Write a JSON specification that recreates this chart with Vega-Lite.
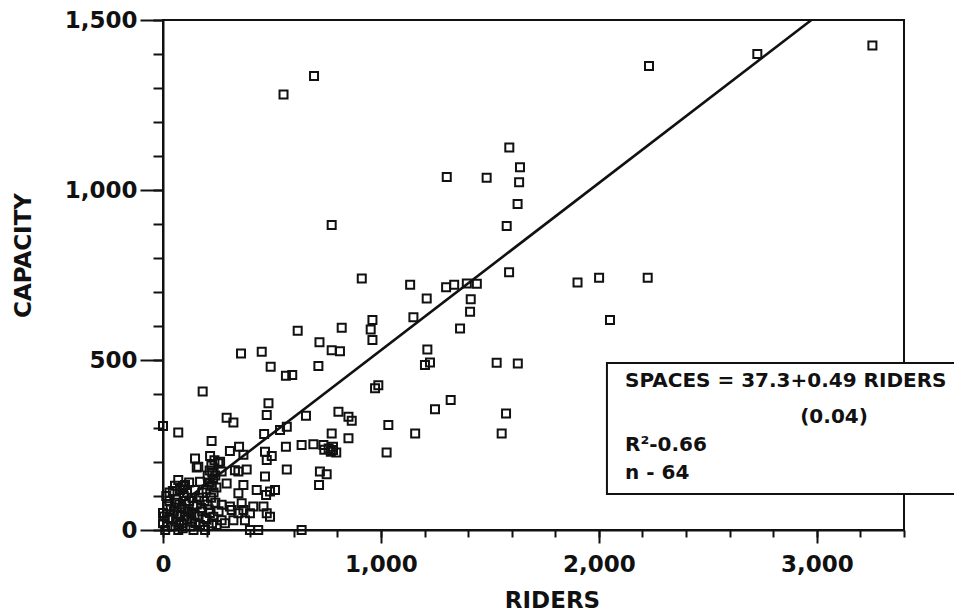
{
  "$schema": "https://vega.github.io/schema/vega-lite/v6.json",
  "width": 741,
  "height": 510,
  "autosize": {"type": "none"},
  "padding": {"left": 163, "top": 20, "right": 50, "bottom": 81},
  "background": "white",
  "config": {
    "view": {"stroke": "#111", "strokeWidth": 2},
    "axis": {
      "grid": false,
      "domainColor": "#111",
      "domainWidth": 2,
      "tickColor": "#111",
      "tickWidth": 2,
      "labelFont": "DejaVu Sans",
      "labelFontWeight": "bold",
      "labelFontSize": 23,
      "labelColor": "#111",
      "titleFont": "DejaVu Sans",
      "titleFontWeight": "bold",
      "titleFontSize": 23,
      "titleColor": "#111"
    }
  },
  "resolve": {"axis": {"x": "independent", "y": "independent"}},
  "data": {
    "values": [
      {"riders": 553, "capacity": 1281}, {"riders": 693, "capacity": 1335}, {"riders": 774, "capacity": 897},
      {"riders": 2230, "capacity": 1365}, {"riders": 2727, "capacity": 1400}, {"riders": 3255, "capacity": 1425},
      {"riders": 1589, "capacity": 1125}, {"riders": 1638, "capacity": 1067}, {"riders": 1634, "capacity": 1023},
      {"riders": 1485, "capacity": 1036}, {"riders": 1302, "capacity": 1038}, {"riders": 1627, "capacity": 959},
      {"riders": 1577, "capacity": 894}, {"riders": 1588, "capacity": 758}, {"riders": 1902, "capacity": 728},
      {"riders": 2001, "capacity": 742}, {"riders": 2224, "capacity": 742}, {"riders": 2051, "capacity": 618},
      {"riders": 912, "capacity": 740}, {"riders": 1134, "capacity": 721}, {"riders": 1299, "capacity": 714},
      {"riders": 1336, "capacity": 721}, {"riders": 1394, "capacity": 725}, {"riders": 1440, "capacity": 724},
      {"riders": 1210, "capacity": 681}, {"riders": 1412, "capacity": 679}, {"riders": 1409, "capacity": 642},
      {"riders": 1363, "capacity": 593}, {"riders": 1149, "capacity": 626}, {"riders": 961, "capacity": 618},
      {"riders": 953, "capacity": 590}, {"riders": 961, "capacity": 559}, {"riders": 820, "capacity": 595},
      {"riders": 774, "capacity": 529}, {"riders": 812, "capacity": 526}, {"riders": 1213, "capacity": 531},
      {"riders": 1202, "capacity": 485}, {"riders": 1225, "capacity": 493}, {"riders": 1531, "capacity": 492},
      {"riders": 1628, "capacity": 490}, {"riders": 988, "capacity": 426}, {"riders": 973, "capacity": 417},
      {"riders": 1320, "capacity": 382}, {"riders": 1248, "capacity": 355}, {"riders": 1574, "capacity": 343},
      {"riders": 1554, "capacity": 284}, {"riders": 1034, "capacity": 309}, {"riders": 1157, "capacity": 284},
      {"riders": 1026, "capacity": 228}, {"riders": 805, "capacity": 348}, {"riders": 851, "capacity": 333},
      {"riders": 866, "capacity": 321}, {"riders": 774, "capacity": 284}, {"riders": 851, "capacity": 270},
      {"riders": 780, "capacity": 235}, {"riders": 795, "capacity": 228}, {"riders": 618, "capacity": 586},
      {"riders": 718, "capacity": 552}, {"riders": 713, "capacity": 482}, {"riders": 358, "capacity": 519},
      {"riders": 453, "capacity": 524}, {"riders": 494, "capacity": 480}, {"riders": 564, "capacity": 454},
      {"riders": 593, "capacity": 456}, {"riders": 182, "capacity": 407}, {"riders": 484, "capacity": 373},
      {"riders": 476, "capacity": 338}, {"riders": 656, "capacity": 336}, {"riders": 292, "capacity": 330},
      {"riders": 323, "capacity": 316}, {"riders": 0, "capacity": 306}, {"riders": 70, "capacity": 287},
      {"riders": 464, "capacity": 282}, {"riders": 537, "capacity": 294}, {"riders": 568, "capacity": 304},
      {"riders": 223, "capacity": 262}, {"riders": 307, "capacity": 232}, {"riders": 349, "capacity": 245},
      {"riders": 369, "capacity": 221}, {"riders": 147, "capacity": 210}, {"riders": 155, "capacity": 184},
      {"riders": 216, "capacity": 218}, {"riders": 262, "capacity": 201}, {"riders": 468, "capacity": 230},
      {"riders": 476, "capacity": 206}, {"riders": 499, "capacity": 218}, {"riders": 564, "capacity": 245},
      {"riders": 636, "capacity": 250}, {"riders": 690, "capacity": 252}, {"riders": 736, "capacity": 250},
      {"riders": 760, "capacity": 240}, {"riders": 780, "capacity": 245}, {"riders": 770, "capacity": 230},
      {"riders": 740, "capacity": 236}, {"riders": 720, "capacity": 172}, {"riders": 751, "capacity": 164},
      {"riders": 716, "capacity": 132}, {"riders": 568, "capacity": 178}, {"riders": 468, "capacity": 157},
      {"riders": 384, "capacity": 178}, {"riders": 346, "capacity": 172}, {"riders": 330, "capacity": 176},
      {"riders": 430, "capacity": 118}, {"riders": 491, "capacity": 113}, {"riders": 514, "capacity": 118},
      {"riders": 473, "capacity": 103}, {"riders": 346, "capacity": 108}, {"riders": 369, "capacity": 132},
      {"riders": 70, "capacity": 147}, {"riders": 93, "capacity": 129}, {"riders": 170, "capacity": 142},
      {"riders": 147, "capacity": 118}, {"riders": 254, "capacity": 196}, {"riders": 269, "capacity": 172},
      {"riders": 292, "capacity": 137}, {"riders": 399, "capacity": 49}, {"riders": 414, "capacity": 69},
      {"riders": 461, "capacity": 69}, {"riders": 476, "capacity": 49}, {"riders": 491, "capacity": 39},
      {"riders": 399, "capacity": 0}, {"riders": 437, "capacity": 0}, {"riders": 636, "capacity": 0},
      {"riders": 315, "capacity": 59}, {"riders": 346, "capacity": 49}, {"riders": 369, "capacity": 59},
      {"riders": 269, "capacity": 29}, {"riders": 284, "capacity": 20}, {"riders": 323, "capacity": 29},
      {"riders": 269, "capacity": 74}, {"riders": 307, "capacity": 69}, {"riders": 361, "capacity": 79},
      {"riders": 376, "capacity": 29}, {"riders": 231, "capacity": 39}, {"riders": 246, "capacity": 15},
      {"riders": 193, "capacity": 0}, {"riders": 162, "capacity": 186}, {"riders": 78, "capacity": 118},
      {"riders": 101, "capacity": 132}, {"riders": 222, "capacity": 190}, {"riders": 226, "capacity": 170},
      {"riders": 230, "capacity": 150}, {"riders": 224, "capacity": 130}, {"riders": 232, "capacity": 110},
      {"riders": 220, "capacity": 95}, {"riders": 240, "capacity": 160}, {"riders": 236, "capacity": 205},
      {"riders": 214, "capacity": 175}, {"riders": 245, "capacity": 125}, {"riders": 0, "capacity": 50},
      {"riders": 0, "capacity": 20}, {"riders": 10, "capacity": 0}, {"riders": 20, "capacity": 70},
      {"riders": 30, "capacity": 35}, {"riders": 40, "capacity": 10}, {"riders": 50, "capacity": 55},
      {"riders": 60, "capacity": 90}, {"riders": 60, "capacity": 25}, {"riders": 75, "capacity": 75},
      {"riders": 80, "capacity": 45}, {"riders": 90, "capacity": 5}, {"riders": 95, "capacity": 100},
      {"riders": 100, "capacity": 60}, {"riders": 110, "capacity": 30}, {"riders": 120, "capacity": 85},
      {"riders": 125, "capacity": 10}, {"riders": 130, "capacity": 50}, {"riders": 140, "capacity": 70},
      {"riders": 150, "capacity": 20}, {"riders": 160, "capacity": 40}, {"riders": 165, "capacity": 95},
      {"riders": 175, "capacity": 65}, {"riders": 185, "capacity": 10}, {"riders": 195, "capacity": 35},
      {"riders": 205, "capacity": 75}, {"riders": 215, "capacity": 50}, {"riders": 225, "capacity": 20},
      {"riders": 240, "capacity": 80}, {"riders": 255, "capacity": 55}, {"riders": 110, "capacity": 110},
      {"riders": 45, "capacity": 115}, {"riders": 15, "capacity": 100}, {"riders": 30, "capacity": 85},
      {"riders": 85, "capacity": 20}, {"riders": 140, "capacity": 0}, {"riders": 70, "capacity": 0},
      {"riders": 5, "capacity": 40}, {"riders": 55, "capacity": 130},
      {"riders": 20, "capacity": 10}, {"riders": 35, "capacity": 60}, {"riders": 45, "capacity": 30},
      {"riders": 55, "capacity": 80}, {"riders": 65, "capacity": 45}, {"riders": 75, "capacity": 15},
      {"riders": 85, "capacity": 65}, {"riders": 100, "capacity": 40}, {"riders": 105, "capacity": 85},
      {"riders": 115, "capacity": 55}, {"riders": 130, "capacity": 25}, {"riders": 135, "capacity": 95},
      {"riders": 145, "capacity": 45}, {"riders": 155, "capacity": 75}, {"riders": 170, "capacity": 15},
      {"riders": 180, "capacity": 55}, {"riders": 190, "capacity": 85}, {"riders": 200, "capacity": 30},
      {"riders": 210, "capacity": 60}, {"riders": 30, "capacity": 110}, {"riders": 90, "capacity": 120},
      {"riders": 120, "capacity": 140}, {"riders": 180, "capacity": 110}, {"riders": 200, "capacity": 120},
      {"riders": 215, "capacity": 140}, {"riders": 205, "capacity": 160}
    ]
  },
  "layer": [
    {
      "mark": {"type": "point", "shape": "square", "filled": false, "size": 64, "stroke": "#111", "strokeWidth": 2, "opacity": 1},
      "encoding": {
        "x": {
          "field": "riders", "type": "quantitative",
          "scale": {"domain": [0, 3400], "nice": false, "zero": true},
          "axis": {
            "orient": "bottom",
            "title": "RIDERS",
            "values": [0, 1000, 2000, 3000],
            "format": ",.0f",
            "tickSize": 13,
            "labelPadding": 10,
            "labelFlush": false,
            "labelOverlap": false,
            "titleX": 389,
            "titleY": 77,
            "titleBaseline": "alphabetic"
          }
        },
        "y": {
          "field": "capacity", "type": "quantitative",
          "scale": {"domain": [0, 1500], "nice": false, "zero": true},
          "axis": {
            "orient": "left",
            "title": "CAPACITY",
            "values": [0, 500, 1000, 1500],
            "format": ",.0f",
            "tickSize": 23,
            "labelPadding": 3,
            "labelFlush": false,
            "labelOverlap": false,
            "titleX": -140,
            "titleY": 235,
            "titleBaseline": "middle"
          }
        }
      }
    },
    {
      "data": {"values": [{"riders": 0, "capacity": 37}, {"riders": 2975, "capacity": 1500}]},
      "mark": {"type": "line", "color": "#111", "strokeWidth": 2.6},
      "encoding": {
        "x": {
          "field": "riders", "type": "quantitative",
          "axis": {
            "orient": "bottom",
            "values": [0, 200, 400, 600, 800, 1000, 1200, 1400, 1600, 1800, 2000, 2200, 2400, 2600, 2800, 3000, 3200, 3400],
            "labels": false,
            "domain": false,
            "title": null,
            "tickSize": 7
          }
        },
        "y": {
          "field": "capacity", "type": "quantitative",
          "axis": {
            "orient": "left",
            "values": [0, 100, 200, 300, 400, 500, 600, 700, 800, 900, 1000, 1100, 1200, 1300, 1400, 1500],
            "labels": false,
            "domain": false,
            "title": null,
            "tickSize": 10
          }
        }
      }
    },
    {
      "data": {"values": [{}]},
      "mark": {"type": "rect", "fill": "white", "stroke": "#111", "strokeWidth": 2},
      "encoding": {
        "x": {"datum": 2037, "type": "quantitative", "axis": null},
        "x2": {"datum": 3700},
        "y": {"datum": 491, "type": "quantitative", "axis": null},
        "y2": {"datum": 106}
      }
    },
    {
      "data": {"values": [{}]},
      "mark": {"type": "text", "text": "SPACES = 37.3+0.49 RIDERS", "align": "left", "baseline": "alphabetic", "font": "DejaVu Sans", "fontWeight": "bold", "fontSize": 20, "color": "#111"},
      "encoding": {"x": {"datum": 2120, "type": "quantitative", "axis": null}, "y": {"datum": 421, "type": "quantitative", "axis": null}}
    },
    {
      "data": {"values": [{}]},
      "mark": {"type": "text", "text": "(0.04)", "align": "center", "baseline": "alphabetic", "font": "DejaVu Sans", "fontWeight": "bold", "fontSize": 20, "color": "#111"},
      "encoding": {"x": {"datum": 3079, "type": "quantitative", "axis": null}, "y": {"datum": 315, "type": "quantitative", "axis": null}}
    },
    {
      "data": {"values": [{}]},
      "mark": {"type": "text", "text": "R²-0.66", "align": "left", "baseline": "alphabetic", "font": "DejaVu Sans", "fontWeight": "bold", "fontSize": 20, "color": "#111"},
      "encoding": {"x": {"datum": 2120, "type": "quantitative", "axis": null}, "y": {"datum": 232, "type": "quantitative", "axis": null}}
    },
    {
      "data": {"values": [{}]},
      "mark": {"type": "text", "text": "n - 64", "align": "left", "baseline": "alphabetic", "font": "DejaVu Sans", "fontWeight": "bold", "fontSize": 20, "color": "#111"},
      "encoding": {"x": {"datum": 2120, "type": "quantitative", "axis": null}, "y": {"datum": 150, "type": "quantitative", "axis": null}}
    }
  ]
}
